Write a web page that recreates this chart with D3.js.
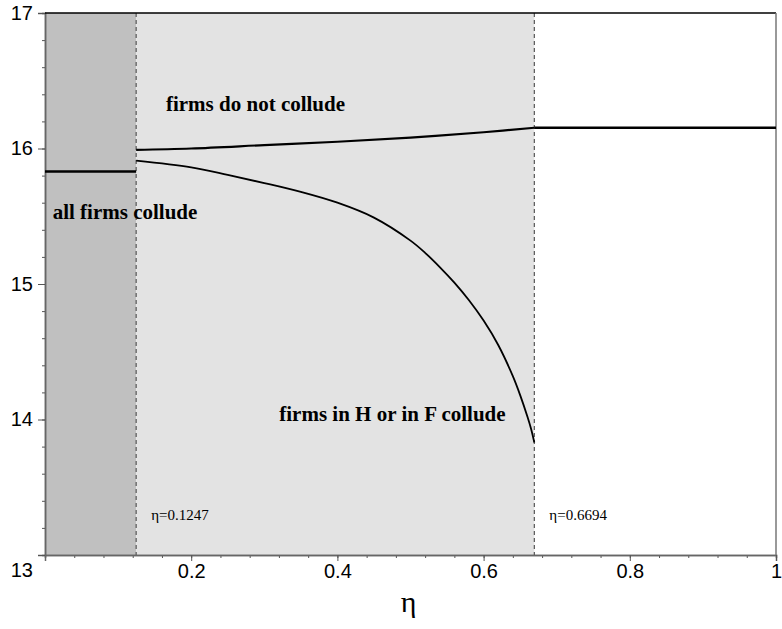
<!DOCTYPE html>
<html>
<head>
<meta charset="utf-8">
<script src="https://cdn.jsdelivr.net/npm/d3@7"></script>
<style>
  body { margin: 0; background: #fff; }
  svg { display: block; }
</style>
</head>
<body>
<svg id="chart" width="782" height="629"></svg>
<script>
"use strict";

// thresholds on eta
var eta_low = 0.1247;
var eta_high = 0.6694;

// "all firms collude" level
var collude_all = [[0, 15.83], [0.1247, 15.83]];

// "firms do not collude" curve, then flat
var no_collude = [
    [0.1247, 15.99], [0.2, 16.0], [0.3, 16.025], [0.4, 16.05],
    [0.5, 16.08], [0.6, 16.12], [0.6694, 16.153]
];
var no_collude_flat = [[0.6694, 16.153], [1, 16.153]];

// "firms in H or in F collude" curve
var partial_collude = [
    [0.1247, 15.91], [0.2, 15.86], [0.25, 15.805], [0.3, 15.745],
    [0.35, 15.68], [0.4, 15.60], [0.45, 15.49], [0.5, 15.32],
    [0.52, 15.23], [0.54, 15.125], [0.56, 15.01], [0.58, 14.88],
    [0.6, 14.73], [0.62, 14.55], [0.64, 14.32], [0.65, 14.18],
    [0.66, 14.02], [0.665, 13.93], [0.6694, 13.83]
];

var x_ticks = [0.2, 0.4, 0.6, 0.8, 1];
var y_ticks = [13, 14, 15, 16, 17];

var margin = {left: 45, right: 6, top: 13, bottom: 74};
var svg = d3.select('#chart');
var width = +svg.attr('width'), height = +svg.attr('height');

var x = d3.scaleLinear().domain([0, 1]).range([margin.left, width - margin.right]);
var y = d3.scaleLinear().domain([13, 17]).range([height - margin.bottom, margin.top]);

// shaded regions
svg.append('rect')
    .attr('x', x(0)).attr('y', y(17))
    .attr('width', x(eta_low) - x(0)).attr('height', y(13) - y(17))
    .style('fill', '#c0c0c0');
svg.append('rect')
    .attr('x', x(eta_low)).attr('y', y(17))
    .attr('width', x(eta_high) - x(eta_low)).attr('height', y(13) - y(17))
    .style('fill', '#e3e3e3');

// dashed thresholds
[eta_low, eta_high].forEach(function(e) {
    svg.append('line')
        .attr('x1', x(e)).attr('x2', x(e))
        .attr('y1', y(17)).attr('y2', y(13))
        .style('stroke', '#555').style('stroke-width', 1.2)
        .style('stroke-dasharray', '4,3');
});

// axes
var xaxis = d3.axisBottom(x)
    .tickValues(d3.range(1, 26).map(function(i) { return i * 0.04; }))
    .tickSize(3).tickFormat('');
svg.append('g').attr('transform', 'translate(0,' + y(13) + ')').call(xaxis);
svg.append('g').attr('transform', 'translate(0,' + y(13) + ')')
    .call(d3.axisBottom(x).tickValues(x_ticks).tickSize(6)
        .tickFormat(function(d) { return d === 1 ? '1' : d3.format('.1f')(d); }));

svg.append('g').attr('transform', 'translate(' + x(0) + ',0)')
    .call(d3.axisLeft(y).tickValues(d3.range(0, 21).map(function(i) { return 13 + i * 0.2; }))
        .tickSize(3).tickFormat(''));
var yax = svg.append('g').attr('transform', 'translate(' + x(0) + ',0)')
    .call(d3.axisLeft(y).tickValues(y_ticks).tickSize(7).tickFormat(d3.format('d')));

svg.selectAll('.domain').style('stroke', '#666').style('stroke-width', 1.5);
svg.selectAll('.tick line').style('stroke', '#555');
svg.selectAll('.tick text')
    .style('font-family', 'Liberation Sans, Arial, sans-serif')
    .style('font-size', '20px').style('fill', '#000');
yax.selectAll('.tick text').attr('x', -12);
yax.selectAll('.tick').filter(function(d) { return d === 13; })
    .select('text').attr('dy', '1.05em');

// frame: top black, right gray
svg.append('line')
    .attr('x1', x(0)).attr('x2', x(1)).attr('y1', y(17)).attr('y2', y(17))
    .style('stroke', '#000').style('stroke-width', 1.5);
svg.append('line')
    .attr('x1', x(1)).attr('x2', x(1)).attr('y1', y(17)).attr('y2', y(13))
    .style('stroke', '#777').style('stroke-width', 1.5);

// curves
var line = d3.line()
    .x(function(d) { return x(d[0]); })
    .y(function(d) { return y(d[1]); })
    .curve(d3.curveCatmullRom.alpha(0.5));

[[collude_all, 2.5], [no_collude, 2.2], [no_collude_flat, 2.5], [partial_collude, 1.8]]
    .forEach(function(s) {
        svg.append('path').datum(s[0]).attr('d', line)
            .style('fill', 'none').style('stroke', '#000')
            .style('stroke-width', s[1]);
    });

// region labels
var labels = [
    {text: 'all firms collude', eta: 0.0105, v: 15.48},
    {text: 'firms do not collude', eta: 0.1655, v: 16.28},
    {text: 'firms in H or in F collude', eta: 0.3205, v: 13.99}
];
labels.forEach(function(l) {
    svg.append('text')
        .attr('x', x(l.eta)).attr('y', y(l.v))
        .style('font-family', 'Liberation Serif, Times New Roman, serif')
        .style('font-weight', 'bold').style('font-size', '21px')
        .text(l.text);
});

[eta_low, eta_high].forEach(function(e) {
    svg.append('text')
        .attr('x', x(e) + 15).attr('y', y(13) - 35)
        .style('font-family', 'Liberation Serif, Times New Roman, serif')
        .style('font-size', '15px')
        .text('η=' + e);
});

// axis title
svg.append('text')
    .attr('x', (x(0) + x(1)) / 2 - 2).attr('y', 612)
    .attr('text-anchor', 'middle')
    .style('font-family', 'Liberation Serif, Times New Roman, serif')
    .style('font-size', '30px')
    .text('η');
</script>
</body>
</html>
